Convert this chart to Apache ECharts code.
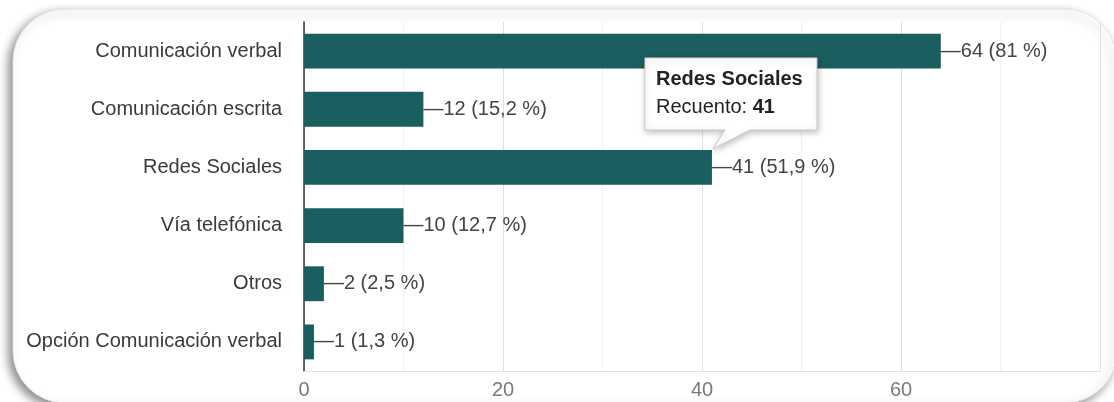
<!DOCTYPE html>
<html>
<head>
<meta charset="utf-8">
<script src="https://cdn.jsdelivr.net/npm/echarts@6/dist/echarts.min.js"></script>
<style>
  html, body { margin: 0; padding: 0; background: #ffffff; }
  #chart { width: 1114px; height: 402px; }
</style>
</head>
<body>
<div id="chart"></div>
<script>
// Survey answers: communication channels
const categories = [
  'Comunicación verbal',
  'Comunicación escrita',
  'Redes Sociales',
  'Vía telefónica',
  'Otros',
  'Opción Comunicación verbal'
];
const counts = [64, 12, 41, 10, 2, 1];
const percents = [81, 15.2, 51.9, 12.7, 2.5, 1.3];
const xTicks = [0, 20, 40, 60, 80];

// Callout shown for one highlighted category
const calloutCategory = 'Redes Sociales';
const calloutLabel = 'Recuento: ';

const FONT = '"Liberation Sans", Arial, sans-serif';
const BAR = '#1b5e5f';

const chart = echarts.init(document.getElementById('chart'), null, { renderer: 'canvas' });

function fmtPct(p) {
  return String(p).replace('.', ',');
}

const option = {
  backgroundColor: '#ffffff',
  animation: false,
  textStyle: { fontFamily: FONT },
  grid: { left: 304, right: 14, top: 22, bottom: 31, containLabel: false },
  xAxis: {
    type: 'value',
    min: xTicks[0],
    max: xTicks[xTicks.length - 1],
    interval: xTicks[1] - xTicks[0],
    axisLine: { show: true, lineStyle: { color: '#e2e2e2', width: 1 } },
    axisTick: { show: false },
    axisLabel: {
      color: '#7a7a7a', fontSize: 20, fontFamily: FONT, margin: 9,
      showMaxLabel: false
    },
    splitLine: { show: true, lineStyle: { color: '#e0e0e0', width: 1 } },
    minorTick: { show: false, splitNumber: 2 },
    minorSplitLine: { show: true, lineStyle: { color: '#f0f0f0', width: 1 } }
  },
  yAxis: {
    type: 'category',
    data: categories,
    inverse: true,
    axisLine: { show: true, lineStyle: { color: '#333333', width: 1.5 } },
    axisTick: { show: false },
    axisLabel: { color: '#3a3a3a', fontSize: 20, fontFamily: FONT, margin: 22 },
    splitLine: { show: false }
  },
  graphic: [
    {
      // rounded card behind the chart
      type: 'rect',
      z: -10,
      silent: true,
      shape: { x: 13, y: 9, width: 1104, height: 394, r: 52 },
      style: {
        fill: '#ffffff',
        stroke: '#e4e4e4',
        lineWidth: 1,
        shadowBlur: 10,
        shadowOffsetX: -4,
        shadowOffsetY: 4,
        shadowColor: 'rgba(0,0,0,0.45)'
      }
    }
  ],
  series: [{
    type: 'bar',
    data: counts,
    barWidth: '60%',
    itemStyle: { color: BAR },
    label: {
      show: true,
      position: 'right',
      distance: 0,
      color: '#444444',
      fontSize: 20,
      fontFamily: FONT,
      formatter: (p) => '\u2014' + p.value + ' (' + fmtPct(percents[p.dataIndex]) + ' %)'
    }
  }]
};

chart.setOption(option);

// Callout box pointing at the end of the highlighted bar
const idx = categories.indexOf(calloutCategory);
const tip = chart.convertToPixel({ seriesIndex: 0 }, [counts[idx], idx]);
const band = chart.getModel().getComponent('yAxis', 0).axis.getBandWidth();
const tx = tip[0] + 1;
const ty = tip[1] - band * 0.3 - 1;
const L = tx - 68, T = ty - 91, R = L + 172, B = T + 72;

chart.setOption({
  graphic: [
    option.graphic[0],
    {
      type: 'polygon',
      z: 50,
      silent: true,
      shape: {
        points: [[L, T], [R, T], [R, B], [tx + 37, B], [tx, ty], [tx + 12, B], [L, B]]
      },
      style: {
        fill: '#ffffff',
        stroke: '#cccccc',
        lineWidth: 1,
        shadowBlur: 6,
        shadowOffsetX: 1,
        shadowOffsetY: 2,
        shadowColor: 'rgba(0,0,0,0.25)'
      }
    },
    {
      type: 'text',
      z: 51,
      silent: true,
      x: L + 11,
      y: T + 8,
      style: {
        text: '{b|' + calloutCategory + '}\n{n|' + calloutLabel + '}{b|' + counts[idx] + '}',
        rich: {
          b: { fontFamily: FONT, fontSize: 20, fontWeight: 'bold', fill: '#222222', lineHeight: 28 },
          n: { fontFamily: FONT, fontSize: 20, fill: '#222222', lineHeight: 28 }
        }
      }
    }
  ]
});
</script>
</body>
</html>
